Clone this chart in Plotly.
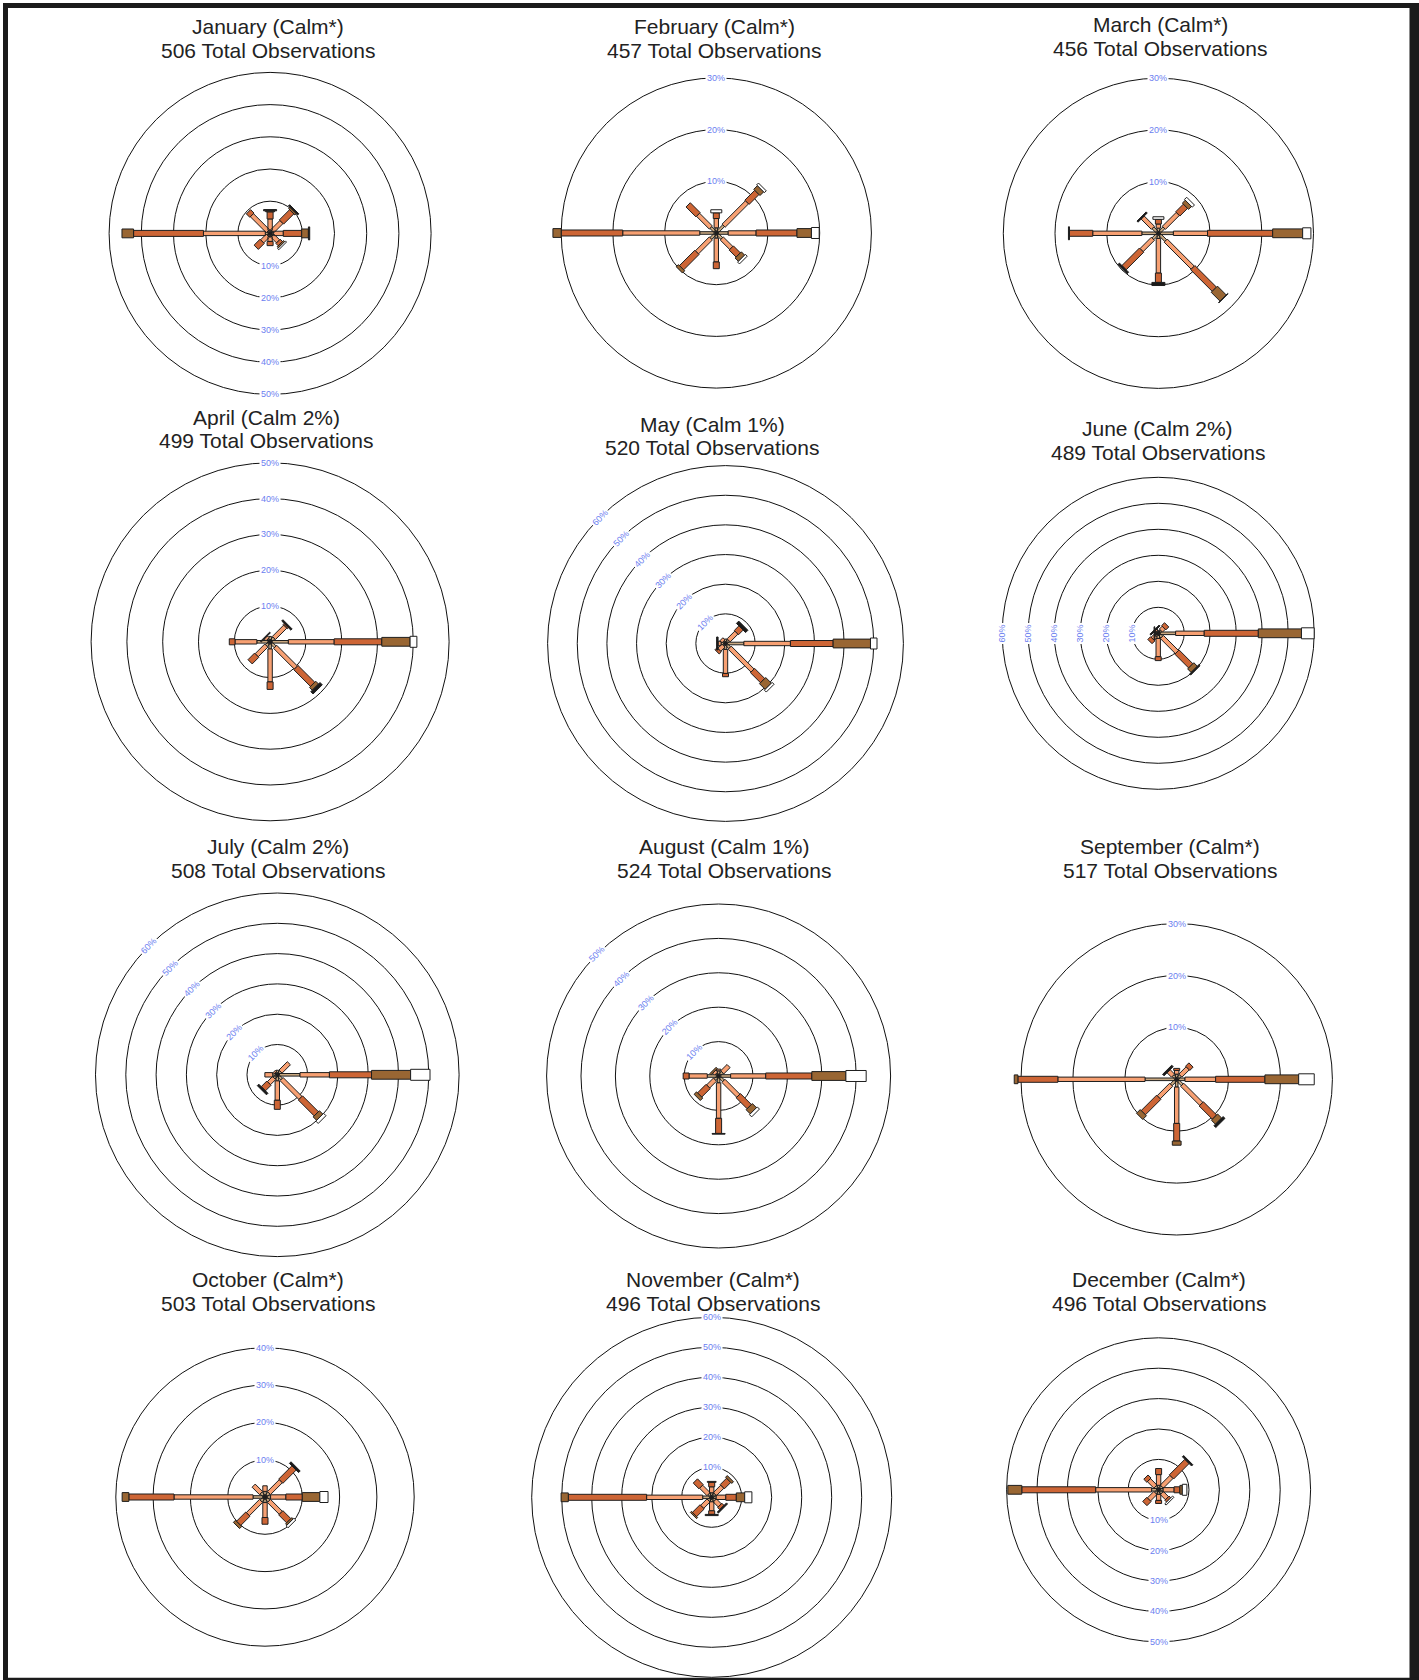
import math
import plotly.graph_objects as go

FIG_W, FIG_H = 1419, 1680

MONTHS = ["January", "February", "March", "April", "May", "June",
          "July", "August", "September", "October", "November", "December"]
CALM = ["Calm*", "Calm*", "Calm*", "Calm 2%", "Calm 1%", "Calm 2%",
        "Calm 2%", "Calm 1%", "Calm*", "Calm*", "Calm*", "Calm*"]
TOTAL_OBS = [506, 457, 456, 499, 520, 489, 508, 524, 517, 503, 496, 496]

DIRECTIONS = ["N", "NE", "E", "SE", "S", "SW", "W", "NW"]
BEARINGS = [0, 45, 90, 135, 180, 225, 270, 315]

# Outermost ring (percent) of each month's rose; rings every 10 %
OUTER_RING = [50, 30, 30, 50, 60, 60, 60, 50, 30, 40, 60, 50]

# Percent of observations: rows follow DIRECTIONS, columns are the six speed classes
JAN = [[1.0, 3.5, 2.2, 0.3, 0.0, 0.4],
       [1.0, 4.0, 4.5, 0.6, 0.0, 0.5],
       [1.0, 3.1, 5.7, 2.1, 0.0, 0.4],
       [1.0, 2.5, 1.0, 0.5, 0.5, 0.0],
       [1.0, 1.5, 1.3, 0.0, 0.0, 0.0],
       [1.0, 2.5, 2.6, 0.0, 0.0, 0.0],
       [1.5, 19.2, 21.7, 3.6, 0.0, 0.0],
       [1.0, 7.0, 1.5, 0.0, 0.0, 0.0]]
FEB = [[1.0, 1.8, 1.1, 0.0, 0.6, 0.0],
       [2.0, 6.4, 2.7, 1.0, 0.5, 0.0],
       [2.3, 5.4, 7.9, 2.8, 1.5, 0.0],
       [1.5, 2.6, 1.9, 0.9, 0.5, 0.0],
       [1.0, 4.6, 1.3, 0.0, 0.0, 0.0],
       [1.5, 3.8, 4.2, 0.6, 0.0, 0.0],
       [3.2, 14.9, 11.9, 1.6, 0.0, 0.0],
       [1.5, 3.5, 2.7, 0.0, 0.0, 0.0]]
MAR = [[1.0, 0.8, 0.9, 0.0, 0.5, 0.0],
       [1.5, 3.8, 2.1, 0.8, 0.6, 0.0],
       [2.9, 6.6, 12.6, 5.8, 1.6, 0.0],
       [2.0, 7.4, 5.9, 2.4, 0.0, 0.1],
       [1.0, 6.7, 1.8, 0.0, 0.0, 0.6],
       [1.5, 3.1, 4.8, 0.0, 0.0, 0.4],
       [3.2, 9.5, 4.5, 0.0, 0.0, 0.2],
       [1.5, 2.8, 0.0, 0.0, 0.0, 0.3]]
APR = [[1.5, 0.0, 0.0, 0.0, 0.0, 0.0],
       [1.5, 4.5, 0.4, 0.0, 0.0, 0.5],
       [5.1, 12.8, 13.3, 7.9, 1.9, 0.0],
       [2.0, 8.2, 6.6, 1.1, 0.0, 0.9],
       [2.0, 9.2, 2.1, 0.0, 0.0, 0.0],
       [1.5, 3.8, 2.6, 0.0, 0.0, 0.0],
       [3.7, 6.1, 1.6, 0.0, 0.0, 0.0],
       [1.0, 0.7, 0.0, 0.0, 0.0, 0.3]]
MAY = [[1.5, 0.0, 0.0, 0.0, 0.0, 0.0],
       [1.5, 3.7, 2.2, 0.0, 0.0, 1.1],
       [6.2, 15.7, 14.4, 12.6, 2.2, 0.0],
       [2.0, 10.9, 4.8, 2.7, 0.9, 0.0],
       [2.0, 8.1, 1.1, 0.0, 0.0, 0.0],
       [1.0, 2.0, 1.0, 0.0, 0.0, 0.0],
       [1.5, 1.0, 0.0, 0.0, 0.0, 0.5],
       [1.0, 1.0, 0.0, 0.0, 0.0, 0.0]]
JUN = [[1.0, 0.0, 0.0, 0.0, 0.0, 0.0],
       [1.5, 1.5, 1.6, 0.0, 0.0, 0.0],
       [6.7, 11.0, 20.8, 16.6, 4.9, 0.0],
       [2.0, 8.2, 7.5, 1.9, 0.0, 0.6],
       [2.0, 7.0, 1.5, 0.0, 0.0, 0.0],
       [1.5, 1.5, 1.5, 0.0, 0.0, 0.0],
       [1.0, 0.3, 0.0, 0.0, 0.0, 0.3],
       [1.0, 0.5, 0.0, 0.0, 0.0, 0.5]]
JUL = [[1.5, 0.0, 0.0, 0.0, 0.0, 0.0],
       [1.5, 3.9, 0.0, 0.0, 0.0, 0.0],
       [7.5, 9.7, 13.9, 12.9, 6.4, 0.0],
       [2.0, 8.8, 7.4, 1.6, 1.1, 0.0],
       [2.0, 6.4, 3.0, 0.0, 0.0, 0.0],
       [1.5, 2.4, 2.6, 0.0, 0.0, 0.7],
       [1.5, 2.6, 0.0, 0.0, 0.0, 0.0],
       [1.0, 0.5, 0.0, 0.0, 0.0, 0.0]]
AUG = [[1.5, 0.5, 0.0, 0.0, 0.0, 0.0],
       [1.5, 2.6, 0.0, 0.0, 0.0, 0.0],
       [3.5, 10.2, 13.4, 9.9, 5.9, 0.0],
       [2.0, 6.1, 4.5, 1.7, 0.9, 0.0],
       [2.0, 10.3, 4.4, 0.0, 0.0, 0.2],
       [1.5, 2.8, 3.5, 1.0, 0.0, 0.0],
       [3.3, 5.3, 1.7, 0.0, 0.0, 0.0],
       [1.0, 0.8, 0.0, 0.5, 0.0, 0.0]]
SEP = [[1.0, 0.7, 0.4, 0.0, 0.0, 0.0],
       [1.0, 2.0, 0.9, 0.0, 0.0, 0.0],
       [1.6, 5.9, 9.5, 6.5, 3.0, 0.0],
       [1.5, 5.2, 3.6, 1.1, 0.0, 0.5],
       [1.5, 7.0, 3.4, 0.8, 0.0, 0.0],
       [1.5, 3.4, 4.2, 1.0, 0.0, 0.0],
       [6.1, 16.8, 7.7, 0.7, 0.0, 0.0],
       [1.0, 1.2, 0.0, 0.0, 0.0, 0.4]]
OCT = [[1.5, 1.5, 0.0, 0.0, 0.0, 0.0],
       [1.5, 4.5, 5.0, 0.0, 0.0, 0.6],
       [1.5, 4.1, 4.4, 4.7, 2.2, 0.0],
       [1.5, 4.5, 3.0, 0.5, 0.7, 0.0],
       [1.5, 4.0, 1.8, 0.0, 0.0, 0.0],
       [1.5, 5.0, 3.5, 0.8, 0.0, 0.0],
       [3.2, 21.2, 12.1, 1.8, 0.0, 0.0],
       [1.5, 2.8, 0.0, 0.0, 0.0, 0.0]]
NOV = [[1.5, 2.0, 1.5, 0.3, 0.0, 0.0],
       [1.5, 3.5, 3.0, 0.8, 0.0, 0.0],
       [1.5, 3.2, 3.5, 2.8, 2.4, 0.0],
       [1.5, 2.3, 1.0, 0.0, 0.0, 0.5],
       [1.5, 3.0, 1.2, 0.0, 0.0, 0.4],
       [1.5, 3.0, 3.6, 0.5, 0.0, 0.0],
       [3.0, 18.7, 26.1, 2.4, 0.0, 0.0],
       [1.5, 3.5, 2.7, 0.0, 0.0, 0.0]]
DEC = [[1.5, 3.5, 2.0, 0.0, 0.0, 0.0],
       [1.5, 4.5, 7.2, 0.0, 0.0, 0.6],
       [1.5, 3.6, 1.9, 0.8, 1.5, 0.0],
       [1.5, 2.4, 0.8, 0.0, 0.6, 0.0],
       [1.5, 2.0, 1.0, 0.0, 0.0, 0.0],
       [1.5, 3.0, 1.9, 0.0, 0.0, 0.0],
       [2.3, 18.4, 24.3, 4.6, 0.0, 0.0],
       [1.5, 3.0, 1.4, 0.0, 0.0, 0.0]]
FREQ = [JAN, FEB, MAR, APR, MAY, JUN, JUL, AUG, SEP, OCT, NOV, DEC]

# Speed-class styling: fill colour and half-thickness of each bar piece (px)
SPEED_FILL = ["#c9a880", "#f7a072", "#cd6535", "#996633", "#ffffff", "#1a1a1a"]
SPEED_HALF_PX = [1.3, 2.2, 3.0, 4.4, 5.5, 6.5]
OUTLINE = "#1e1e1e"

# Page geometry of each rose: centre (px), pixels per 1 %, ring-label bearing and text angle
CENTER_X = [270.1, 716.3, 1158.4, 270.1, 725.5, 1158.2, 277.3, 718.6, 1176.7, 265.0, 711.7, 1158.6]
CENTER_Y = [233.4, 233.0, 233.3, 641.8, 643.5, 633.3, 1074.8, 1076.0, 1079.3, 1497.0, 1497.3, 1489.8]
PX_PER_PCT = [3.22, 5.17, 5.17, 3.58, 2.965, 2.60, 3.03, 3.44, 5.19, 3.73, 3.00, 3.04]
LABEL_BEARING = [180, 0, 0, 0, 315, 270, 315, 315, 0, 0, 0, 180]
LABEL_TEXTANGLE = [0, 0, 0, 0, -45, -90, -45, -45, 0, 0, 0, 0]

# Title anchor per rose: centre x, first-line y, second-line y (px)
TITLE_X = [268, 714, 1160, 266, 712, 1157.5, 277.6, 723.5, 1170.4, 268, 712.7, 1158.6]
TITLE_Y1 = [26.8, 26.8, 24.7, 417.0, 424.4, 428.7, 846.7, 846.7, 846.7, 1279.7, 1279.7, 1279.7]
TITLE_Y2 = [50.4, 50.4, 48.2, 440.5, 448.0, 452.3, 870.3, 870.3, 870.3, 1303.3, 1303.3, 1303.3]

FONT = "Liberation Sans, Arial, sans-serif"


def piece_outline(bearing, r0, r1, half):
    """Corners of a straight, constant-width bar piece from r0 to r1 along a bearing."""
    corners = [(r0, -half), (r1, -half), (r1, half), (r0, half), (r0, -half)]
    rs, ts = [], []
    for along, across in corners:
        rs.append(math.hypot(along, across))
        ts.append(bearing + math.degrees(math.atan2(across, along)))
    return rs, ts


def px_x(px):
    return px / FIG_W


def px_y(py):
    return 1 - py / FIG_H


fig = go.Figure()
layout_polars = {}
annotations = []

for m in range(12):
    name = "polar" if m == 0 else f"polar{m + 1}"
    table = FREQ[m]
    scale = PX_PER_PCT[m]
    longest = max(sum(row) for row in table)
    rmax = max(OUTER_RING[m], longest) + 0.6
    # keep the subplot inside the page
    cx, cy = CENTER_X[m], CENTER_Y[m]
    lim = min(cx, FIG_W - cx, cy, FIG_H - cy) / scale
    rmax = min(rmax, lim - 0.05)
    rad_px = rmax * scale

    layout_polars[name] = dict(
        domain=dict(x=[px_x(cx - rad_px), px_x(cx + rad_px)],
                    y=[px_y(cy + rad_px), px_y(cy - rad_px)]),
        bgcolor="rgba(0,0,0,0)",
        radialaxis=dict(range=[0, rmax],
                        tickvals=list(range(10, OUTER_RING[m] + 1, 10)),
                        showticklabels=False, ticks="", showline=False,
                        showgrid=True, gridcolor="#111111", gridwidth=1),
        angularaxis=dict(rotation=90, direction="clockwise", showgrid=False,
                         showticklabels=False, ticks="", showline=False),
    )

    # one trace per speed class; the pieces of all directions are separated by gaps
    for k in range(6):
        half = SPEED_HALF_PX[k] / scale
        r_all, t_all = [], []
        for d, bearing in enumerate(BEARINGS):
            start = sum(table[d][:k])
            length = table[d][k]
            if length <= 0:
                continue
            rs, ts = piece_outline(bearing, start, start + length, half)
            r_all += rs + [None]
            t_all += ts + [None]
        if not r_all:
            continue
        fig.add_trace(go.Scatterpolar(
            r=r_all, theta=t_all, mode="lines", fill="toself",
            fillcolor=SPEED_FILL[k], line=dict(color=OUTLINE, width=1),
            subplot=name, hoverinfo="skip", showlegend=False,
        ))

    # ring labels sitting on the rings
    b = math.radians(LABEL_BEARING[m])
    for v in range(10, OUTER_RING[m] + 1, 10):
        lx = cx + v * scale * math.sin(b)
        ly = cy - v * scale * math.cos(b)
        annotations.append(dict(
            x=px_x(lx), y=px_y(ly), xref="paper", yref="paper",
            text=f"{v}%", showarrow=False, textangle=LABEL_TEXTANGLE[m],
            font=dict(family=FONT, size=9, color="#6b80f0"),
            bgcolor="#ffffff", borderpad=1, xanchor="center", yanchor="middle",
        ))

    # two-line title
    annotations.append(dict(
        x=px_x(TITLE_X[m]), y=px_y(TITLE_Y1[m]), xref="paper", yref="paper",
        text=f"{MONTHS[m]} ({CALM[m]})", showarrow=False,
        font=dict(family=FONT, size=21, color="#222222"),
        xanchor="center", yanchor="middle",
    ))
    annotations.append(dict(
        x=px_x(TITLE_X[m]), y=px_y(TITLE_Y2[m]), xref="paper", yref="paper",
        text=f"{TOTAL_OBS[m]} Total Observations", showarrow=False,
        font=dict(family=FONT, size=21, color="#222222"),
        xanchor="center", yanchor="middle",
    ))

# dark page frame
FRAME_RECTS = [(3, 3, 1419, 8), (3, 3, 8, 1680), (1409.5, 3, 1419, 1680), (3, 1677.7, 1419, 1680)]
shapes = [dict(type="rect", xref="paper", yref="paper",
               x0=px_x(x0), x1=px_x(x1), y0=px_y(y1), y1=px_y(y0),
               fillcolor="#1b1b1b", line=dict(width=0), layer="above")
          for x0, y0, x1, y1 in FRAME_RECTS]

fig.update_layout(
    width=FIG_W, height=FIG_H,
    margin=dict(l=0, r=0, t=0, b=0),
    paper_bgcolor="#ffffff", plot_bgcolor="#ffffff",
    showlegend=False,
    annotations=annotations,
    shapes=shapes,
    **layout_polars,
)

fig.write_html("out.html")
